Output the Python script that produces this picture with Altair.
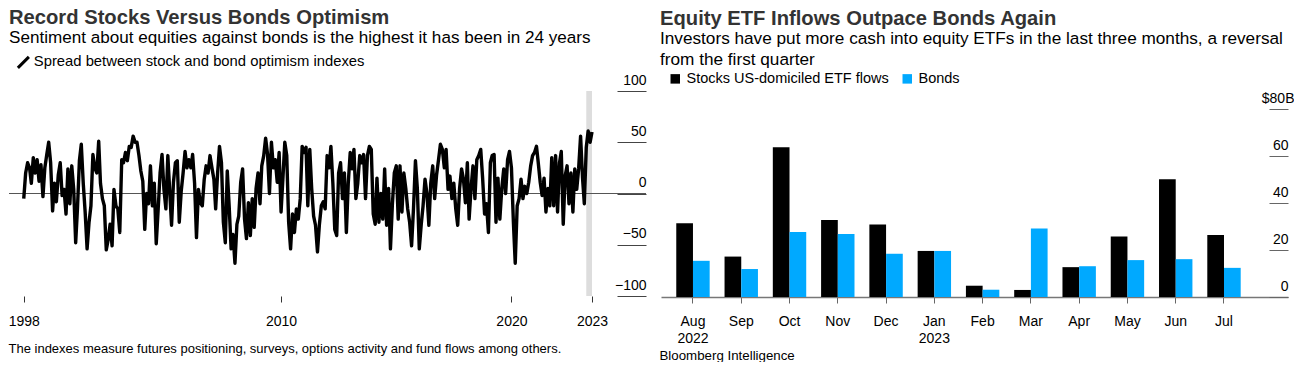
import altair as alt
import pandas as pd

FONT = "Liberation Sans"

# ---------------- Left panel data ----------------
LINE_LABEL = "Spread between stock and bond optimism indexes"
spread_first_month = "1998-11-01"
spread_values = [
    -5, 20, 30, 25, 10, 35, 20, 33, 12, 28,
    -3, 25, 38, 50, 30, -17, 10, -8, 18, 30,
    -2, 4, -20, 24, -10, 27, 4, -48, -15, 32,
    48, 10, -18, -54, -28, -12, 38, 25, 20, 51,
    10, -5, -12, -55, -45, -30, -51, 4, -12, -15,
    -38, 33, 30, 40, 32, 46, 45, 56, 50,
    50, 37, 22, 12, -35, 0, -10, 27, -12, 10,
    -49, -15, 20, 38, 4, -15, 37, 4, -31, 11,
    30, 32, -28, 2, 20, 41, 25, 33, 25, 38,
    10, -43, 4, -9, -12, 14, 27, 20, 37, 25,
    14, -15, 20, 46, 30, -28, -48, 22, -12, -54,
    -40, -68, -30, -22, 11, 24, -25, -44, -9,
    -41, -5, -33, 5, 20, -10, 27, 37, 54, 38,
    0, 50, 25, 33, 11, 40, -18, 17, 50, 37,
    -28, -54, -20, -38, -15, -25, -5, 46, 40, 45,
    -12, 43, 5, -22, -31, -57, -30, -12, -8, -15,
    37, 25, 46, 10, -35, -41, 20, 30, -5, 20,
    -38, 10, 40, 24, 43, -5, 10, 37, 30, 38, -5,
    37, 46, 43, -20, -30, 15, -28, 0, -25, 24,
    -31, 5, -54, -10, 20, 27, -25, 27, -18, 20,
    5, -15, -28, -51, -15, 32, 5, -54, -30, -12,
    14, 0, -31, 10, 27, -5, 18, 33, 48, 43,
    25, 43, 4, 17, -5, 10, -15, -31, 5, 24,
    14, -9, 30, -25, 5, 27, -5, 33, 37,
    43, 15, -20, -10, -38, 30, 37, 38, -28, 15,
    -25, 5, 24, 0, 33, 41, 25, -28, -68, -12,
    -5, 14, -5, 7, 0, 11, 27, 37, 40, 46,
    30, 11, -2, 15, -18, 5, -12, 35, -12, 37,
    -18, 30, 41, -30, 17, 27, -10, 20, -18, 24,
    4, 24, 56, 15, -10, 45, 61, 50, 60,
]
highlight_start = ["2023-04-01"]
highlight_end = ["2023-07-01"]
left_x_ticks = ["1998-11-01", "2010-01-01", "2020-01-01", "2023-07-01"]
left_x_domain = ["1998-03-12", "2025-11-03"]
left_y_ticks = [-100, -50, 0, 50, 100]

# ---------------- Right panel data ----------------
STOCKS = "Stocks US-domiciled ETF flows"
BONDS = "Bonds"
months = ["Aug 2022", "Sep", "Oct", "Nov", "Dec", "Jan 2023",
          "Feb", "Mar", "Apr", "May", "Jun", "Jul"]
stock_flows = [31.4, 17.2, 63.7, 32.8, 30.9, 19.6, 4.8, 3.0, 12.7, 25.7, 50.1, 26.4]
bond_flows = [15.4, 11.9, 27.7, 26.8, 18.4, 19.6, 3.1, 29.2, 13.1, 15.7, 16.1, 12.4]
right_y_ticks = [0, 20, 40, 60, 80]
right_y_domain = [0, 87.66]


def dt(s):
    y, m, d = (int(p) for p in s.split("-"))
    return alt.DateTime(year=y, month=m, date=d)


# ---------------- Left panel ----------------
spread_df = pd.DataFrame({
    "date": pd.date_range(spread_first_month, periods=len(spread_values), freq="MS"),
    "value": spread_values,
    "series": LINE_LABEL,
})
band_df = pd.DataFrame({
    "date": pd.to_datetime(highlight_start),
    "end": pd.to_datetime(highlight_end),
    "value": [left_y_ticks[-1]],
    "bottom": [left_y_ticks[0]],
})
zero_df = pd.DataFrame({"value": [0]})

x_scale_left = alt.Scale(domain=[dt(s) for s in left_x_domain])
y_scale_left = alt.Scale(domain=[left_y_ticks[0], left_y_ticks[-1]], nice=False, zero=False)

x_axis_left = alt.Axis(
    values=[dt(s) for s in left_x_ticks], format="%Y", domain=False, grid=False,
    ticks=True, tickSize=6, tickColor="#333333", labelFontSize=14, labelColor="#000000",
    labelPadding=12, labelFlush=False, labelOverlap=False, labelAngle=0, labelBaseline="top",
    title="The indexes measure futures positioning, surveys, options activity and fund flows among others.",
    titleFontSize=13, titleFontWeight="normal", titleColor="#000000",
    titleAnchor="start", titleAlign="left", titleBaseline="middle", titleX=-1, titleY=52.5,
)
y_axis_left = alt.Axis(
    orient="right", values=left_y_ticks, grid=False, domain=False, tickSize=29, offset=-29,
    tickColor="#444444", labelAlign="right", labelBaseline="alphabetic", labelOffset=-7,
    labelPadding=0, labelFontSize=14, labelColor="#000000", title=None,
)

band = alt.Chart(band_df).mark_rect(color="#DDDDDD").encode(
    x=alt.X("date:T", scale=x_scale_left, axis=x_axis_left),
    x2="end:T",
    y=alt.Y("value:Q", scale=y_scale_left, axis=y_axis_left),
    y2="bottom:Q",
)
zero_rule = alt.Chart(zero_df).mark_rule(color="#555555", strokeWidth=1).encode(
    y=alt.Y("value:Q", scale=y_scale_left, axis=y_axis_left)
)
line = alt.Chart(spread_df).mark_line(strokeWidth=3.4, strokeJoin="round").encode(
    x=alt.X("date:T", scale=x_scale_left, axis=x_axis_left),
    y=alt.Y("value:Q", scale=y_scale_left, axis=y_axis_left),
    color=alt.Color(
        "series:N",
        scale=alt.Scale(domain=[LINE_LABEL], range=["#000000"]),
        legend=alt.Legend(
            title=None, orient="none", legendX=7, legendY=-36, symbolType="M-1,1L1,-1",
            symbolSize=121, symbolStrokeWidth=3, labelFontSize=14.8, labelColor="#000000",
            labelOffset=3, padding=0, labelLimit=1000,
        ),
    ),
)

left = alt.layer(band, zero_rule, line).properties(
    width=637,
    height=205,
    title=alt.TitleParams(
        text="Record Stocks Versus Bonds Optimism",
        subtitle="Sentiment about equities against bonds is the highest it has been in 24 years",
        anchor="start", frame="group", fontSize=20.2, fontWeight="bold", color="#333333",
        subtitleFontSize=17.1, subtitleColor="#000000", subtitlePadding=1, offset=8.5,
    ),
)

# ---------------- Right panel ----------------
flows_df = pd.DataFrame({
    "month": months + months,
    "series": [STOCKS] * len(months) + [BONDS] * len(months),
    "value": stock_flows + bond_flows,
})

right = alt.Chart(flows_df).mark_bar().encode(
    x=alt.X(
        "month:N",
        sort=months,
        scale=alt.Scale(paddingInner=0.308, paddingOuter=0.648, align=0.244),
        axis=alt.Axis(
            labelExpr="split(datum.label, ' ')", labelAngle=0, tickSize=6, tickColor="#666666",
            domainColor="#777777", domainWidth=1.5, labelFontSize=14, labelColor="#000000",
            labelPadding=11, labelLineHeight=17.5, labelBaseline="top",
            title="Bloomberg Intelligence", titleFontSize=13.3, titleFontWeight="normal",
            titleColor="#000000", titleAnchor="start", titleAlign="left", titleBaseline="middle",
            titleX=-2, titleY=58,
        ),
    ),
    xOffset=alt.XOffset("series:N", sort=[STOCKS, BONDS],
                        scale=alt.Scale(domain=[STOCKS, BONDS], paddingInner=0, paddingOuter=0)),
    y=alt.Y(
        "value:Q",
        scale=alt.Scale(domain=right_y_domain, nice=False, zero=False),
        axis=alt.Axis(
            orient="right", values=right_y_ticks, grid=False, domain=False, tickSize=19, offset=-19,
            tickColor="#666666", labelAlign="right", labelBaseline="alphabetic", labelOffset=-7,
            labelPadding={"condition": {"test": "datum.value == 80", "value": 6}, "value": 0},
            labelExpr="datum.value == 80 ? '$80B' : datum.label",
            labelFontSize=14, labelColor="#000000", title=None,
        ),
    ),
    color=alt.Color(
        "series:N",
        scale=alt.Scale(domain=[STOCKS, BONDS], range=["#000000", "#00A9FF"]),
        legend=alt.Legend(
            title=None, orient="none", legendX=7, legendY=-19.5, direction="horizontal",
            symbolType="square", symbolSize=90, symbolStrokeWidth=0, labelFontSize=14.5,
            labelColor="#000000", labelOffset=4, columnPadding=11, padding=0, labelLimit=1000,
        ),
    ),
).properties(
    width=627,
    height=206,
    title=alt.TitleParams(
        text="Equity ETF Inflows Outpace Bonds Again",
        subtitle=["Investors have put more cash into equity ETFs in the last three months, a reversal",
                  "from the first quarter"],
        anchor="start", frame="group", dx=-1, fontSize=20.2, fontWeight="bold", color="#333333",
        subtitleFontSize=17.2, subtitleColor="#000000", subtitlePadding=1, subtitleLineHeight=21,
        offset=3,
    ),
)

chart = alt.hconcat(left, right, spacing=12).properties(
    padding=0
).configure(font=FONT).configure_view(stroke=None).resolve_scale(color="independent")

chart.save("out.html", embed_options={"renderer": "svg", "actions": False})
